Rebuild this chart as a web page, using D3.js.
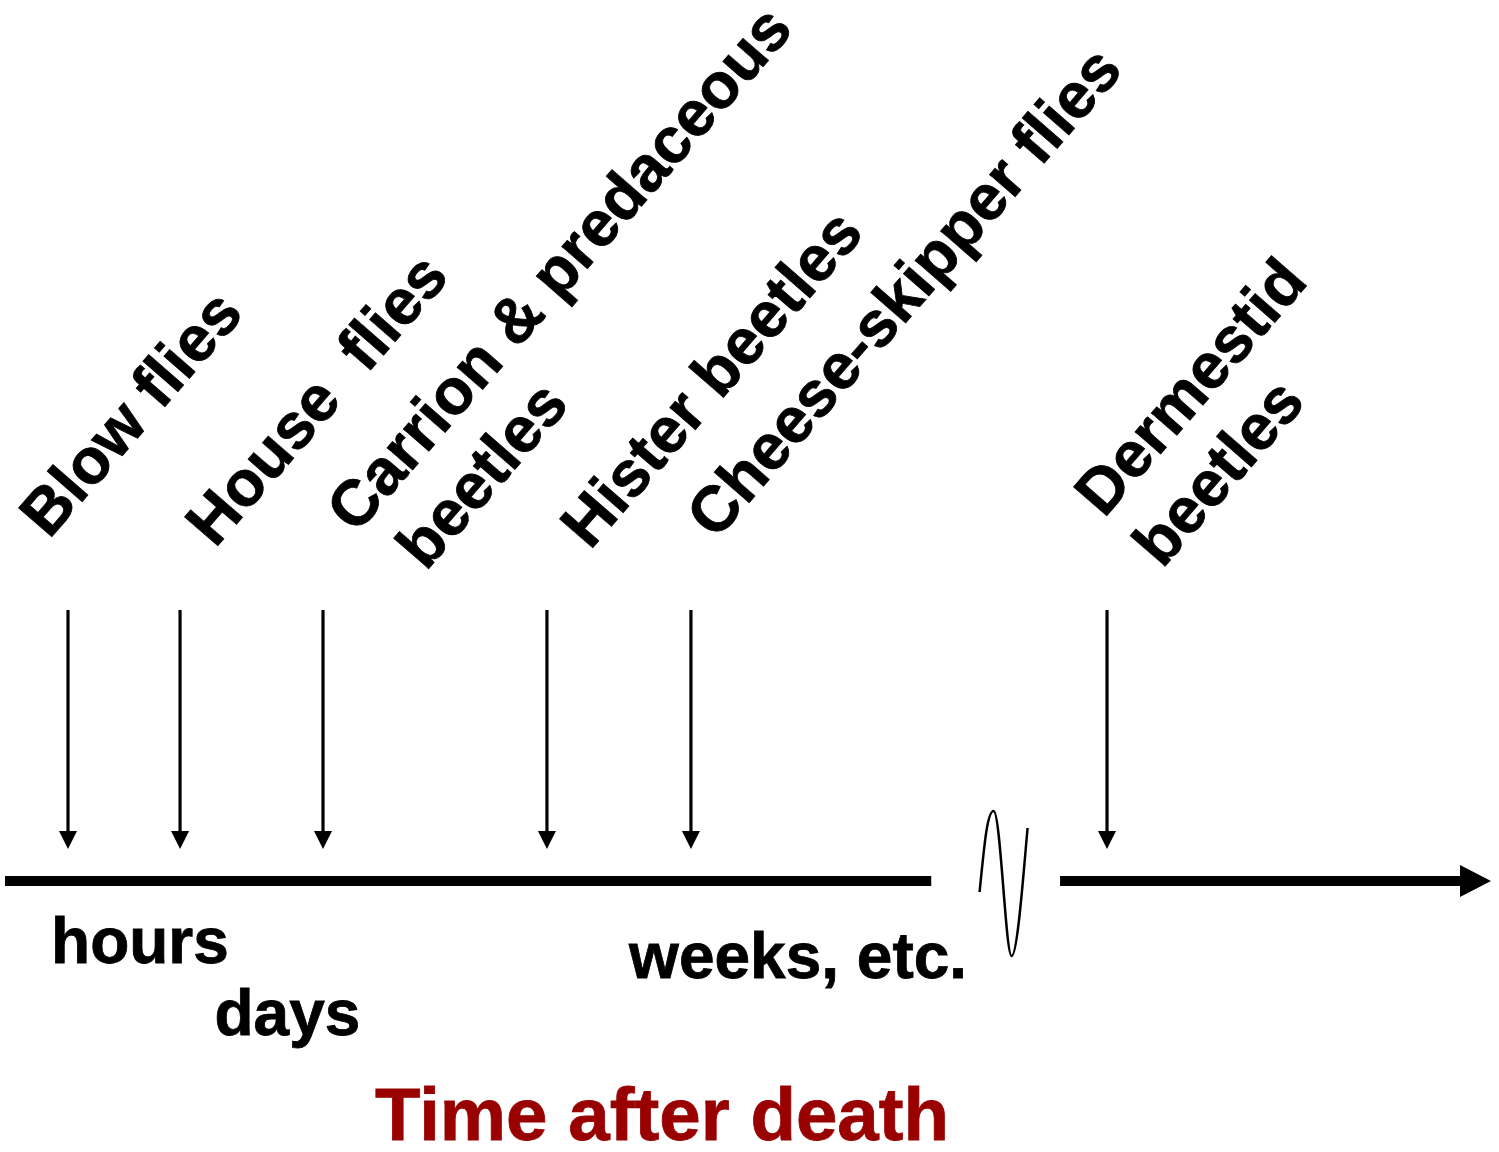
<!DOCTYPE html>
<html>
<head>
<meta charset="utf-8">
<script src="https://cdn.jsdelivr.net/npm/d3@7"></script>
<style>
  body { margin: 0; background: #fff; }
  text { font-family: "Liberation Sans", Arial, sans-serif; font-weight: bold; white-space: pre; }
</style>
</head>
<body>
<div id="chart"></div>
<script>
// insects in order of arrival, and where they arrive on the (unscaled) time line
const insects = ['Blow flies', 'House  flies', 'Carrion & predaceous\n beetles', 'Hister beetles', 'Cheese-skipper flies', 'Dermestid\nbeetles'];
const arrival = [4.24, 11.78, 21.4, 36.47, 46.16, 74.16];

// time periods written under the line
const periods = ['hours', 'days', 'weeks, etc.'];
const periodAt = [3.1, 14.1, 42.0];

// the line is broken between these two values
const axisParts = [[0, 62.33], [71.0, 100]];
const breakAt = 67.2;

const title = 'Time after death';

// label nudges (px from the arrow, baseline y) - the labels were placed by hand
const labelNudge = [[-19, 540], [35, 549], [33, 535], [43, 551], [25, 541], [-3, 519]];
const periodY = [963, 1035, 978];

const w = 1499, h = 1152;
const lineY = 881;
const angle = -49;
const fs = 64;

const x = d3.scaleLinear().domain([0, 100]).range([5, 1491]);

const svg = d3.select('#chart').append('svg').attr('width', w).attr('height', h);

// main time line, in two parts
svg.selectAll('line.axis').data(axisParts).enter().append('line')
  .attr('class', 'axis')
  .attr('x1', d => x(d[0]))
  .attr('x2', (d, i) => i == axisParts.length - 1 ? x(d[1]) - 30 : x(d[1]))
  .attr('y1', lineY).attr('y2', lineY)
  .attr('stroke', '#000').attr('stroke-width', 10);

// big arrow head at the end
const tip = x(axisParts[1][1]);
svg.append('path')
  .attr('d', `M${tip},${lineY} L${tip - 31},${lineY - 16} L${tip - 31},${lineY + 16} Z`)
  .attr('fill', '#000');

// the squiggle for the break
const bx = x(breakAt);
const sq = d3.path();
sq.moveTo(bx - 24, lineY + 11);
sq.bezierCurveTo(bx - 19, lineY - 40, bx - 16, lineY - 70, bx - 10, lineY - 70);
sq.bezierCurveTo(bx - 3, lineY - 70, bx + 2, lineY + 75, bx + 8, lineY + 75);
sq.bezierCurveTo(bx + 14, lineY + 75, bx + 20, lineY - 10, bx + 24, lineY - 53);
svg.append('path').attr('d', sq.toString())
  .attr('fill', 'none').attr('stroke', '#000').attr('stroke-width', 2.5);

// arrows pointing down at the line
const arrows = svg.selectAll('g.arrow').data(arrival).enter().append('g')
  .attr('class', 'arrow')
  .attr('transform', d => `translate(${x(d)},0)`);
arrows.append('line')
  .attr('x1', 0).attr('x2', 0).attr('y1', 610).attr('y2', 835)
  .attr('stroke', '#000').attr('stroke-width', 3.2);
arrows.append('path')
  .attr('d', 'M-9,831 L9,831 L0,849 Z')
  .attr('fill', '#000');

// rotated insect names
const labels = svg.selectAll('text.insect').data(insects).enter().append('text')
  .attr('class', 'insect')
  .attr('font-size', fs)
  .attr('stroke', '#000').attr('stroke-width', 0.8)
  .attr('transform', (d, i) => `translate(${x(arrival[i]) + labelNudge[i][0]},${labelNudge[i][1]}) rotate(${angle})`);
labels.selectAll('tspan').data(d => d.split('\n')).enter().append('tspan')
  .attr('x', 0)
  .attr('dy', (d, i) => i == 0 ? 0 : 77)
  .text(d => d);

// periods under the line
svg.selectAll('text.period').data(periods).enter().append('text')
  .attr('class', 'period')
  .attr('font-size', fs)
  .attr('stroke', '#000').attr('stroke-width', 0.8)
  .attr('x', (d, i) => x(periodAt[i]))
  .attr('y', (d, i) => periodY[i])
  .text(d => d);

svg.append('text')
  .attr('x', 375).attr('y', 1140)
  .attr('font-size', 74.5)
  .attr('fill', '#990000')
  .attr('stroke', '#990000').attr('stroke-width', 0.8)
  .text(title);
</script>
</body>
</html>
